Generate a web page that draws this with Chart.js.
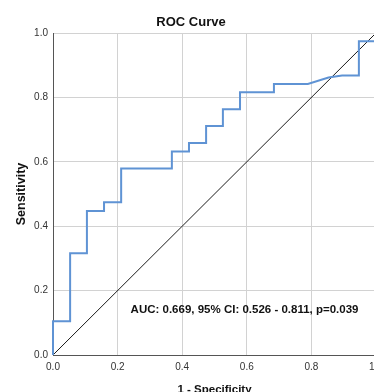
<!DOCTYPE html>
<html>
<head>
<meta charset="utf-8">
<script src="https://cdn.jsdelivr.net/npm/chart.js@4/dist/chart.umd.min.js"></script>
<style>
  html, body { margin: 0; padding: 0; background: #fff; overflow: hidden; }
  #wrap { width: 374px; height: 392px; overflow: hidden; position: relative; }
  canvas { display: block; }
</style>
</head>
<body>
<div id="wrap"><canvas id="c" width="400" height="392"></canvas></div>
<script>
// ---- Data ----
const chartTitle = "ROC Curve";
const xAxisTitle = "1 - Specificity";
const yAxisTitle = "Sensitivity";
const aucLabel = "AUC: 0.669, 95% CI: 0.526 - 0.811, p=0.039";
const aucLabelPos = [0.593, 0.141];   // data coords (x, y) of label centre

// ROC curve: 1 - specificity (x) and sensitivity (y)
const rocFpr = [0, 0, 0.053, 0.053, 0.105, 0.105, 0.158, 0.158, 0.211, 0.211,
                0.368, 0.368, 0.421, 0.421, 0.474, 0.474, 0.526, 0.526, 0.579, 0.579,
                0.684, 0.684, 0.789, 0.853, 0.895, 0.947, 0.947, 1.0, 1.0];
const rocTpr = [0, 0.105, 0.105, 0.316, 0.316, 0.447, 0.447, 0.474, 0.474, 0.579,
                0.579, 0.632, 0.632, 0.658, 0.658, 0.711, 0.711, 0.763, 0.763, 0.816,
                0.816, 0.842, 0.842, 0.862, 0.868, 0.868, 0.974, 0.974, 1.0];
// Reference (chance) line
const refX = [0, 1];
const refY = [0, 1];
// Axis ticks
const tickValues = [0, 0.2, 0.4, 0.6, 0.8, 1.0];

const toPts = (xs, ys) => xs.map((x, i) => ({ x: x, y: ys[i] }));

const FONT = "'Liberation Sans', Arial, Helvetica, sans-serif";

const textPlugin = {
  id: 'texts',
  afterDraw(chart) {
    const ctx = chart.ctx;
    const xs = chart.scales.x, ys = chart.scales.y;
    ctx.save();
    ctx.fillStyle = '#111';
    // title
    ctx.font = 'bold 13px ' + FONT;
    ctx.textAlign = 'center';
    ctx.textBaseline = 'alphabetic';
    ctx.fillText(chartTitle, 191, 26.3);
    // x title
    ctx.font = 'bold 11.5px ' + FONT;
    ctx.fillText(xAxisTitle, (chart.chartArea.left + chart.chartArea.right) / 2, 393.3);
    // y title
    ctx.save();
    ctx.translate(24.5, (chart.chartArea.top + chart.chartArea.bottom) / 2);
    ctx.rotate(-Math.PI / 2);
    ctx.font = 'bold 12.5px ' + FONT;
    ctx.fillText(yAxisTitle, 0, 0);
    ctx.restore();
    // AUC annotation
    ctx.font = 'bold 11.5px ' + FONT;
    ctx.textBaseline = 'middle';
    ctx.fillText(aucLabel, xs.getPixelForValue(aucLabelPos[0]), ys.getPixelForValue(aucLabelPos[1]));
    ctx.restore();
  }
};

const tickOpts = {
  font: { family: FONT, size: 10 },
  color: '#333',
  autoSkip: false,
  maxRotation: 0,
  callback: v => Number(v).toFixed(1)
};

new Chart(document.getElementById('c'), {
  type: 'scatter',
  data: {
    datasets: [
      {
        label: 'ROC',
        data: toPts(rocFpr, rocTpr),
        showLine: true,
        borderColor: '#5f93d4',
        borderWidth: 2,
        pointRadius: 0,
        tension: 0,
        fill: false,
        clip: false,
        order: 1
      },
      {
        label: 'Reference',
        data: toPts(refX, refY),
        showLine: true,
        borderColor: '#1a1a1a',
        borderWidth: 1,
        pointRadius: 0,
        fill: false,
        clip: false,
        order: 2
      }
    ]
  },
  options: {
    responsive: false,
    animation: false,
    devicePixelRatio: 1,
    layout: { padding: { left: 0, right: 24, top: 33, bottom: 0 } },
    plugins: {
      legend: { display: false },
      title: { display: false },
      tooltip: { enabled: false }
    },
    scales: {
      x: {
        type: 'linear',
        min: 0, max: 1,
        afterBuildTicks: s => { s.ticks = tickValues.map(v => ({ value: v })); },
        afterFit: s => { s.height = 37; },
        ticks: Object.assign({}, tickOpts, { padding: 6 }),
        grid: { color: '#d2d2d2', lineWidth: 1, drawTicks: false },
        border: { color: '#555', width: 1 }
      },
      y: {
        type: 'linear',
        min: 0, max: 1,
        afterBuildTicks: s => { s.ticks = tickValues.map(v => ({ value: v })); },
        afterFit: s => { s.width = 53; },
        ticks: Object.assign({}, tickOpts, { padding: 5 }),
        grid: { color: '#d2d2d2', lineWidth: 1, drawTicks: false },
        border: { color: '#555', width: 1 }
      }
    }
  },
  plugins: [textPlugin]
});
</script>
</body>
</html>
